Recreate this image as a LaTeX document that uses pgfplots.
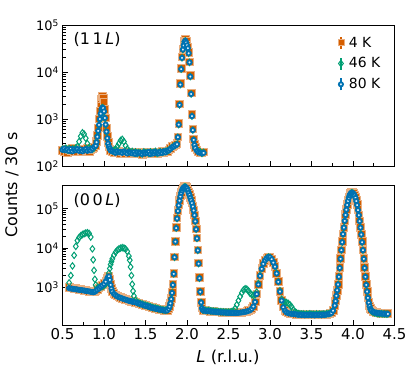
\documentclass[border=0pt]{standalone}
\usepackage{fontspec}
\setmainfont{DejaVu Sans}
\usepackage{pgfplots}
\usepackage{pgfplotstable}
\pgfplotsset{compat=1.18}
\definecolor{cfour}{HTML}{D55E00}
\definecolor{cfortysix}{HTML}{009E73}
\definecolor{ceighty}{HTML}{0072B2}

% (1 1 L) scan: L, 4 K, 46 K, 80 K
\pgfplotstableread{
L a b c
0.50 215 230 220
0.52 205 225 235
0.54 230 240 215
0.56 195 220 225
0.58 225 235 210
0.60 210 215 230
0.62 240 230 205
0.64 200 225 225
0.66 220 240 215
0.68 205 260 230
0.70 230 330 210
0.72 215 430 225
0.74 200 510 205
0.76 225 480 220
0.78 210 390 230
0.80 235 300 210
0.82 205 245 225
0.84 220 230 215
0.86 240 225 235
0.88 250 240 255
0.90 270 280 270
0.91 330 340 320
0.92 450 440 420
0.93 650 560 560
0.94 1000 720 750
0.95 1500 950 1000
0.96 2100 1250 1300
0.97 2700 1550 1600
0.98 3000 1750 1750
0.99 2800 1700 1700
1.00 2300 1450 1450
1.01 1600 1050 1050
1.02 1050 750 760
1.03 650 520 540
1.04 430 380 390
1.05 320 290 300
1.06 260 250 260
1.07 230 230 235
1.08 215 220 215
1.10 200 210 205
1.12 195 215 200
1.14 210 230 190
1.16 190 260 205
1.18 205 300 195
1.20 185 350 200
1.22 200 370 190
1.24 195 330 205
1.26 185 270 195
1.28 200 230 185
1.30 190 210 200
1.32 180 195 190
1.34 200 205 185
1.36 185 190 195
1.38 195 200 180
1.40 180 185 195
1.42 200 195 185
1.44 185 190 190
1.46 175 180 180
1.48 195 200 195
1.50 185 190 185
1.52 200 195 190
1.54 180 185 200
1.56 195 200 180
1.58 185 190 195
1.60 200 195 185
1.62 190 205 200
1.64 180 185 190
1.66 200 195 185
1.68 190 200 200
1.70 205 195 190
1.72 195 200 205
1.74 210 205 195
1.76 200 210 210
1.78 220 215 215
1.80 240 235 230
1.82 260 250 250
1.84 270 265 260
1.86 280 275 275
1.88 300 290 290
1.89 420 410 410
1.90 800 760 760
1.91 2100 2000 2000
1.92 5800 5400 5400
1.93 12000 11500 11500
1.94 21000 20000 20000
1.95 31000 30000 30000
1.96 39000 37000 37000
1.97 46000 44000 44000
1.98 50000 46000 46000
1.99 45000 42000 42000
2.00 38000 37000 37000
2.01 33000 32000 32000
2.02 26000 25000 25000
2.03 16500 16000 16000
2.04 8500 8000 8000
2.05 3600 3400 3400
2.06 1250 1150 1150
2.07 620 580 580
2.08 380 360 360
2.09 290 280 280
2.10 250 240 240
2.12 220 215 210
2.14 200 205 195
2.16 195 200 190
2.18 190 185 185
2.20 200 195 190
}\toptab

% (0 0 L) scan: L, 4 K, 46 K, 80 K
\pgfplotstableread{
L a b c
0.58 1000 1300 950
0.60 980 2000 930
0.62 960 3500 920
0.64 940 6500 900
0.66 950 11000 890
0.68 920 15500 880
0.70 900 18500 860
0.72 880 20500 850
0.74 870 22000 840
0.76 850 23000 830
0.78 840 24000 810
0.80 820 24500 800
0.82 800 23500 790
0.84 780 19000 770
0.86 760 9500 760
0.87 760 5000 750
0.88 770 2700 760
0.89 790 1600 780
0.90 820 1150 800
0.92 880 950 870
0.94 960 1000 940
0.96 1050 1000 1030
0.98 1150 1050 1120
1.00 1250 1100 1220
1.02 1450 1200 1400
1.04 1750 1400 1700
1.05 1900 1700 1850
1.06 1950 2300 1900
1.07 1600 3000 1550
1.08 1200 3800 1150
1.09 950 4500 920
1.10 800 5300 780
1.12 700 6600 680
1.14 640 7800 630
1.16 600 8800 590
1.18 570 9500 560
1.20 550 9900 540
1.22 530 10200 520
1.24 510 10000 500
1.26 490 9400 485
1.28 475 8200 470
1.30 460 6200 455
1.31 455 4900 450
1.32 450 3300 445
1.33 445 2000 440
1.34 440 1200 435
1.35 435 800 430
1.36 430 600 425
1.38 420 470 415
1.40 405 410 400
1.42 395 400 390
1.44 380 385 375
1.46 370 375 365
1.48 355 360 350
1.50 345 350 340
1.52 335 340 330
1.54 325 330 320
1.56 315 320 312
1.58 305 310 300
1.60 298 300 295
1.62 290 295 288
1.64 285 290 282
1.66 278 280 275
1.68 272 275 270
1.70 268 270 265
1.72 262 265 260
1.74 258 262 256
1.76 260 265 258
1.78 290 290 285
1.79 330 330 325
1.80 400 400 390
1.81 520 510 500
1.82 750 720 720
1.83 1200 1150 1150
1.84 2300 2200 2200
1.85 6000 5800 5800
1.86 15000 14500 14500
1.87 33000 32000 32000
1.88 58000 56000 56000
1.89 90000 87000 87000
1.90 125000 121000 121000
1.91 165000 160000 160000
1.92 210000 204000 204000
1.93 260000 252000 252000
1.94 300000 291000 291000
1.95 335000 325000 325000
1.96 355000 345000 345000
1.97 365000 355000 355000
1.98 365000 355000 355000
1.99 355000 345000 345000
2.00 335000 325000 325000
2.01 300000 291000 291000
2.02 262000 254000 254000
2.03 228000 221000 221000
2.04 195000 189000 189000
2.05 168000 163000 163000
2.06 142000 138000 138000
2.07 117000 113000 113000
2.08 93000 90000 90000
2.09 70000 68000 68000
2.10 49000 47500 47500
2.11 31000 30000 30000
2.12 18000 17500 17500
2.13 9000 8700 8700
2.14 4200 4000 4000
2.15 1800 1700 1700
2.16 800 770 770
2.17 420 410 410
2.18 300 295 295
2.19 270 268 265
2.20 262 265 258
2.22 255 260 252
2.24 250 255 248
2.26 252 258 250
2.28 248 252 245
2.30 245 250 242
2.32 243 248 240
2.34 240 245 238
2.36 238 243 236
2.38 236 240 234
2.40 235 240 232
2.42 233 238 230
2.44 232 236 229
2.46 230 235 228
2.48 229 234 226
2.50 228 233 225
2.52 227 235 224
2.54 226 240 223
2.56 225 255 222
2.58 225 290 222
2.60 226 360 223
2.62 228 460 225
2.64 230 580 227
2.66 232 720 230
2.68 236 850 234
2.70 240 920 238
2.72 245 900 243
2.74 255 820 252
2.76 265 700 262
2.78 290 650 285
2.80 330 620 325
2.82 430 640 425
2.84 680 760 670
2.86 1200 1250 1180
2.88 2000 2000 1950
2.90 3000 3000 2950
2.92 4000 4000 3950
2.94 4900 4900 4850
2.96 5500 5500 5450
2.98 5900 5900 5850
3.00 5800 5800 5750
3.02 5200 5200 5150
3.04 4300 4300 4250
3.06 3400 3400 3350
3.08 2300 2300 2250
3.10 1400 1400 1380
3.12 800 820 780
3.14 470 500 460
3.16 320 420 310
3.18 260 420 255
3.20 235 410 230
3.22 225 390 220
3.24 218 360 215
3.26 215 320 212
3.28 212 270 210
3.30 210 240 207
3.32 208 225 205
3.34 203 215 199
3.36 210 212 204
3.38 200 208 197
3.40 206 210 202
3.42 198 204 195
3.44 205 209 200
3.46 200 206 196
3.48 207 212 203
3.50 199 205 196
3.52 204 208 200
3.54 198 203 194
3.56 206 210 201
3.58 200 205 197
3.60 205 209 202
3.62 199 204 195
3.64 207 211 203
3.66 202 206 199
3.68 208 212 205
3.70 210 214 207
3.72 215 218 212
3.74 225 228 222
3.76 260 262 255
3.78 350 350 345
3.79 450 450 445
3.80 620 615 610
3.81 850 840 840
3.82 1200 1180 1180
3.83 1900 1850 1850
3.84 3200 3100 3100
3.85 5500 5300 5300
3.86 9000 8800 8800
3.87 14500 14000 14000
3.88 23000 22500 22500
3.89 34000 33000 33000
3.90 50000 49000 49000
3.91 71000 69000 69000
3.92 97000 94000 94000
3.93 128000 124000 124000
3.94 162000 157000 157000
3.95 195000 190000 190000
3.96 225000 219000 219000
3.97 246000 240000 240000
3.98 258000 252000 252000
3.99 258000 252000 252000
4.00 254000 247000 247000
4.01 241000 235000 235000
4.02 220000 214000 214000
4.03 193000 188000 188000
4.04 160000 156000 156000
4.05 127000 123000 123000
4.06 95000 92000 92000
4.07 70000 68000 68000
4.08 49000 48000 48000
4.09 34000 33000 33000
4.10 22500 22000 22000
4.11 14500 14000 14000
4.12 9000 8800 8800
4.13 5500 5300 5300
4.14 3200 3100 3100
4.15 1900 1850 1850
4.16 1200 1150 1150
4.17 800 780 780
4.18 560 540 540
4.19 420 400 405
4.20 340 320 330
4.21 290 275 282
4.22 265 250 258
4.24 245 232 240
4.26 235 224 230
4.28 228 218 224
4.30 224 214 220
4.32 222 212 218
4.34 220 214 216
4.36 218 209 214
4.38 216 211 212
4.40 215 207 211
4.42 214 209 210
}\bottab

\pgfplotsset{
  s4/.style={only marks, mark=square*, mark size=3.8bp,
    mark options={fill=cfour, draw=cfour!50, line width=0.7pt},
    legend image code/.code={\draw[cfour, line width=1.3pt] (0bp,-6bp) -- (0bp,6bp);
      \draw[##1, mark size=3bp] plot coordinates {(0bp,0bp)};}},
  s46/.style={only marks, mark=diamond, mark size=3.2bp,
    mark options={draw=cfortysix, fill=white, line width=1pt},
    legend image code/.code={\draw[cfortysix, line width=1.3pt] (0bp,-6bp) -- (0bp,6bp);
      \draw[##1] plot coordinates {(0bp,0bp)};}},
  s80/.style={only marks, mark=*, mark size=2.1bp,
    mark options={draw=ceighty, fill=ceighty!12, line width=1.8pt},
    legend image code/.code={\draw[ceighty, line width=1.3pt] (0bp,-6bp) -- (0bp,6bp);
      \draw[##1] plot coordinates {(0bp,0bp)};}},
}

\begin{document}
\begin{tikzpicture}
\path[use as bounding box] (0,0) rectangle (415bp,369bp);

\begin{axis}[scale only axis, width=332bp, height=141bp,
  at={(62.5bp,203bp)}, anchor=south west,
  ymode=log, xmin=0.5, xmax=4.5,
  ymin=100, ymax=100000,
  xtick={0.5,1,1.5,2,2.5,3,3.5,4,4.5},
  minor x tick num=1,
  tick pos=left, tick align=inside,
  major tick length=5bp, minor tick length=3bp,
  axis line style={line width=0.9pt},
  every tick/.style={black, line width=0.7pt},
  yticklabel style={font=\fontsize{13}{15}\selectfont},
  ytick={100,1000,10000,100000},
  yticklabels={10\textsuperscript{2},10\textsuperscript{3},10\textsuperscript{4},10\textsuperscript{5}},
  xticklabels={},
  legend style={at={(0.82,0.945)}, anchor=north west, draw=none, fill=none,
    font=\fontsize{14}{16}\selectfont, row sep=5bp},
  legend cell align=left,
]
\addplot[s4] table[x=L, y=a] {\toptab};
\addplot[s46] table[x=L, y=b] {\toptab};
\addplot[s80] table[x=L, y=c] {\toptab};
\legend{\hspace*{3bp}4 K, \hspace*{3bp}46 K, \hspace*{3bp}80 K}
\node[anchor=center, font=\fontsize{16}{18}\selectfont] at (rel axis cs:0.104,0.894) {(1\,1\,\textit{L})};
\end{axis}

\begin{axis}[scale only axis, width=332bp, height=140bp,
  at={(62.5bp,44bp)}, anchor=south west,
  ymode=log, xmin=0.5, xmax=4.5,
  ymin=110, ymax=400000,
  xtick={0.5,1,1.5,2,2.5,3,3.5,4,4.5},
  minor x tick num=1,
  tick pos=left, tick align=inside,
  major tick length=5bp, minor tick length=3bp,
  axis line style={line width=0.9pt},
  every tick/.style={black, line width=0.7pt},
  yticklabel style={font=\fontsize{13}{15}\selectfont},
  xticklabel style={font=\fontsize{15}{17}\selectfont},
  ytick={1000,10000,100000},
  yticklabels={10\textsuperscript{3},10\textsuperscript{4},10\textsuperscript{5}},
  xticklabels={0.5,1.0,1.5,2.0,2.5,3.0,3.5,4.0,4.5},
]
\addplot[s4] table[x=L, y=a] {\bottab};
\addplot[s46] table[x=L, y=b] {\bottab};
\addplot[s80] table[x=L, y=c] {\bottab};
\node[anchor=center, font=\fontsize{16}{18}\selectfont] at (rel axis cs:0.104,0.886) {(0\,0\,\textit{L})};
\end{axis}

\node[rotate=90, font=\fontsize{16}{18}\selectfont] at (12bp,184bp) {Counts / 30 s};
\node[font=\fontsize{16.5}{18}\selectfont] at (228bp,12bp) {\textit{L} (r.l.u.)};
\end{tikzpicture}
\end{document}
